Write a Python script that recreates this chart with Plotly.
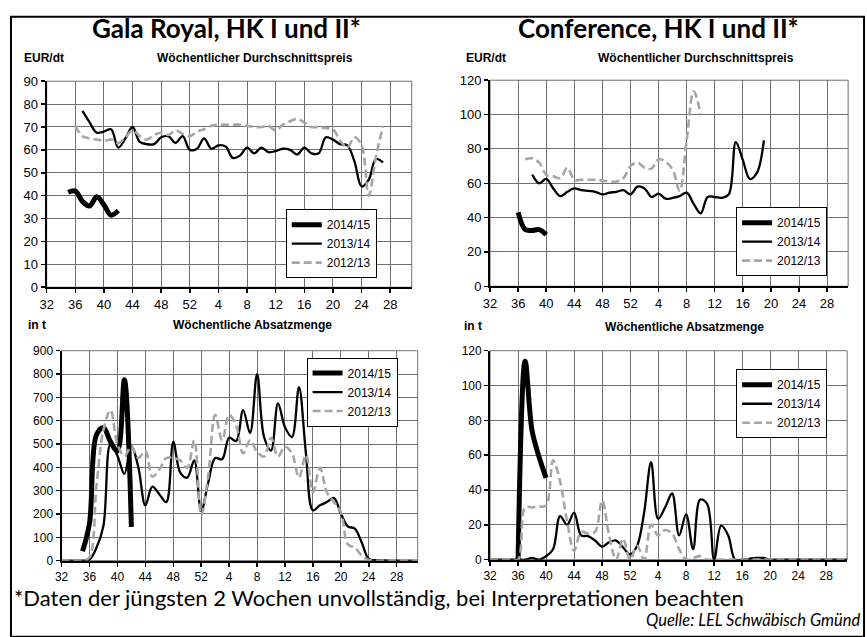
import plotly.graph_objects as go

W, H = 867, 637

# ---------------- data (week numbers of the marketing season, values) ----------------
tick_weeks = [32, 36, 40, 44, 48, 52, 4, 8, 12, 16, 20, 24, 28]
season_labels = ["2014/15", "2013/14", "2012/13"]

all_weeks = list(range(32, 53)) + list(range(1, 32))

# Gala Royal - weekly average price (EUR/dt)
gala_price_weeks_1415 = [35, 36, 37, 38, 39, 40, 41, 42]
gala_price_1415 = [41.5, 42, 37.5, 35.5, 39.5, 36, 31.5, 33.5]
gala_price_weeks_1314 = list(range(37, 53)) + list(range(1, 28))
gala_price_1314 = [77, 72, 67.5, 68, 69, 61, 65, 70, 63.5, 62.5, 62.5, 65.5, 66, 63, 66, 60,
                   60.5, 65, 60.5, 62, 61.5, 56.5, 57.5, 61, 58.5, 61, 59, 59.5, 60.5, 60,
                   58, 61, 58.5, 58.5, 65.5, 64.5, 62.5, 62, 55, 44, 47, 56, 54.5]
gala_price_weeks_1213 = list(range(36, 53)) + list(range(1, 28))
gala_price_1213 = [70.5, 66, 65, 64.5, 64, 64.5, 63, 65.5, 68.5, 66, 64.5, 66.5, 67.5, 66.5, 68.5, 67, 66,
                   68, 69, 70.5, 71, 71, 71, 71, 70.5, 70, 70, 70.5, 68.5, 71, 72.5, 73.5, 72,
                   70, 70, 69.5, 69, 64, 61, 65.5, 62, 40, 57, 70.5]

# Conference - weekly average price (EUR/dt)
conf_price_weeks_1415 = [36, 37, 38, 39, 40]
conf_price_1415 = [43, 33, 32.5, 33, 30]
conf_price_weeks_1314 = list(range(38, 53)) + list(range(1, 20))
conf_price_1314 = [65, 60, 62.5, 57, 52.5, 55, 57, 56, 55.5, 55, 53.5, 54.5, 55, 56, 53.5,
                   58, 57, 52, 54, 51, 51.5, 52.5, 54.5, 48, 42.5, 52, 52, 51.5, 53.5,
                   84, 73.5, 62.5, 66, 85]
conf_price_weeks_1213 = list(range(37, 53)) + list(range(1, 11))
conf_price_1213 = [74, 74.5, 72, 65, 64, 63, 69, 62, 62, 62, 62, 61.5, 61, 61, 63, 70,
                   72, 69, 68.5, 74, 72.5, 68, 55.5, 85, 113.5, 100]

# Gala Royal - weekly sales volume (t)
gala_vol_weeks_1415 = [35, 36, 37, 38, 39, 40, 41, 42]
gala_vol_1415 = [40, 160, 540, 570, 510, 470, 775, 145]
gala_vol_1314 = [0, 0, 0, 0, 5, 55, 150, 500, 450, 372, 490, 400, 237, 317, 285, 251, 509, 377, 356, 430, 212,
                 335, 440, 435, 527, 513, 645, 547, 800, 530, 472, 674, 572, 530, 744, 460, 216, 237, 251,
                 269, 202, 147, 137, 77, 7, 2, 1, 0, 0, 0, 0, 0]
gala_vol_1213 = [0, 0, 0, 0, 15, 320, 560, 645, 500, 448, 490, 440, 470, 360, 390, 440, 440, 430, 398, 516, 195,
                 363, 625, 516, 625, 580, 460, 516, 467, 446, 527, 446, 488, 460, 356, 453, 293, 398, 293,
                 251, 209, 70, 56, 21, 3, 0, 0, 0, 0, 0, 0, 0]

# Conference - weekly sales volume (t)
conf_vol_weeks_1415 = [36, 37, 38, 39, 40]
conf_vol_1415 = [0, 114, 74, 59, 47]
conf_vol_1314 = [0, 0, 0, 0, 0, 0, 1, 0, 2, 6, 25, 20, 27, 14, 13.5, 11, 7.5, 10, 11, 7, 3,
                 8, 27, 56, 23.5, 30, 38, 14, 26, 6, 34.5, 32, 0, 19.5, 14, 0, 0, 0.5, 1, 1,
                 0, 0, 0, 0, 0, 0, 0, 0, 0, 0, 0, 0]
conf_vol_1213 = [0, 0, 0, 0, 0, 30, 30, 30.5, 31, 57, 45, 22, 5, 16, 15, 16, 34, 14, 0, 12, 0,
                 8, 0, 20, 14, 17, 15, 6, 0, 1, 2, 0, 0, 0, 0, 0, 0, 0, 0, 0,
                 0, 0, 0, 0, 0, 0, 0, 0, 0, 0, 0, 0]


def pos(weeks):
    """season position of a calendar week (week 32 = 0)"""
    return [w - 32 if w >= 32 else w + 20 for w in weeks]


# ---------------- layout helpers (pixels -> paper) ----------------
def xd(a, b):
    return [a / W, b / W]


def yd(top, bottom):
    return [1 - bottom / H, 1 - top / H]


ARIAL = "Liberation Sans, Arial, sans-serif"
HUMAN = "Lato, Open Sans, sans-serif"
GRID = "#707070"
GRAY = "#a6a6a6"

styles = [
    dict(color="black", width=5),
    dict(color="black", width=2.3),
    dict(color=GRAY, width=2.6, dash="8px,4px"),
]

fig = go.Figure()

panels = [
    # (axis suffix, legend id, series list, y range, dtick)
    ("", "legend", [(gala_price_weeks_1415, gala_price_1415),
                    (gala_price_weeks_1314, gala_price_1314),
                    (gala_price_weeks_1213, gala_price_1213)], 90, 10),
    ("2", "legend2", [(conf_price_weeks_1415, conf_price_1415),
                      (conf_price_weeks_1314, conf_price_1314),
                      (conf_price_weeks_1213, conf_price_1213)], 120, 20),
    ("3", "legend3", [(gala_vol_weeks_1415, gala_vol_1415),
                      (all_weeks, gala_vol_1314),
                      (all_weeks, gala_vol_1213)], 900, 100),
    ("4", "legend4", [(conf_vol_weeks_1415, conf_vol_1415),
                      (all_weeks, conf_vol_1314),
                      (all_weeks, conf_vol_1213)], 120, 20),
]

for suffix, leg, series, ymax, dt in panels:
    for (wk, vals), name, st in zip(series, season_labels, styles):
        fig.add_trace(go.Scatter(
            x=pos(wk), y=vals, mode="lines", name=name,
            line=dict(shape="spline", smoothing=1.0, **st),
            xaxis="x" + suffix, yaxis="y" + suffix, legend=leg,
            hoverinfo="skip",
        ))

domains = {
    "": (xd(40, 408), yd(76, 287)),
    "2": (xd(487, 848), yd(75, 286)),
    "3": (xd(55, 414), yd(352, 567)),
    "4": (xd(487, 847), yd(352, 566)),
}

layout = dict(
    width=W, height=H,
    margin=dict(l=0, r=0, t=0, b=0),
    paper_bgcolor="white", plot_bgcolor="white",
    font=dict(family=ARIAL, color="black"),
)

for suffix, leg, series, ymax, dt in panels:
    xdom, ydom = domains[suffix]
    fs = 13 if suffix in ("", "2") else 12
    layout["xaxis" + suffix] = dict(
        domain=xdom, anchor="y" + suffix, range=[0, 51],
        tickmode="array", tickvals=pos(tick_weeks), ticktext=[str(t) for t in tick_weeks],
        showgrid=True, gridcolor=GRID, gridwidth=1,
        showline=True, linecolor="black", linewidth=2, mirror=False,
        ticks="outside", ticklen=4, tickcolor="black", tickwidth=1.5,
        tickfont=dict(family=ARIAL, size=fs), zeroline=False, fixedrange=True,
    )
    layout["yaxis" + suffix] = dict(
        domain=ydom, anchor="x" + suffix, range=[0, ymax], dtick=dt, tick0=0,
        showgrid=True, gridcolor=GRID, gridwidth=1,
        showline=True, linecolor="black", linewidth=2,
        ticks="outside", ticklen=4, tickcolor="black", tickwidth=1.5,
        tickfont=dict(family=ARIAL, size=fs), zeroline=False, fixedrange=True,
    )

legend_pos = {"legend": (281, 207), "legend2": (735, 205), "legend3": (302, 359), "legend4": (735, 371)}
for leg, (lx, ly) in legend_pos.items():
    layout[leg] = dict(
        x=lx / W, y=1 - ly / H, xanchor="left", yanchor="top",
        bgcolor="white", bordercolor="black", borderwidth=1,
        font=dict(family=ARIAL, size=12), tracegroupgap=0,
    )

# frames of the plot areas (right/top edges) and outer border, in paper coordinates
shapes = []
for suffix in ["", "2", "3", "4"]:
    xdom, ydom = domains[suffix]
    shapes.append(dict(type="rect", xref="paper", yref="paper",
                       x0=xdom[0], x1=xdom[1], y0=ydom[0], y1=ydom[1],
                       line=dict(color=GRID, width=1), layer="below"))
shapes.append(dict(type="rect", xref="paper", yref="paper",
                   x0=4 / W, x1=864 / W, y0=1 - 645 / H, y1=1 - 10 / H,
                   line=dict(color="black", width=2), layer="below"))
layout["shapes"] = shapes

fig.update_layout(**layout)


def ann(text, cx, cy, size, family=ARIAL, bold=False, xanchor="center", italic=False):
    t = text
    if bold:
        t = "<b>" + t + "</b>"
    if italic:
        t = "<i>" + t + "</i>"
    fig.add_annotation(text=t, x=cx / W, y=1 - cy / H, xref="paper", yref="paper",
                       xanchor=xanchor, yanchor="middle", showarrow=False, borderpad=0,
                       font=dict(family=family, size=size, color="black"))


ann("Gala Royal, HK I und II*", 221, 21, 26, HUMAN, bold=True)
ann("Conference, HK I und II*", 657, 21, 26, HUMAN, bold=True)
ann("EUR/dt", 37, 52, 12, bold=True)
ann("EUR/dt", 483, 52, 12, bold=True)
ann("Wöchentlicher Durchschnittspreis", 250, 52, 12, bold=True)
ann("Wöchentlicher Durchschnittspreis", 695, 52, 12, bold=True)
ann("in t", 30, 326, 12, bold=True)
ann("in t", 470, 327, 12, bold=True)
ann("Wöchentliche Absatzmenge", 248, 326, 12, bold=True)
ann("Wöchentliche Absatzmenge", 683, 328, 12, bold=True)
ann("*Daten der jüngsten 2 Wochen unvollständig, bei Interpretationen beachten", 6, 605, 22, HUMAN,
    xanchor="left")
ann("Quelle: LEL Schwäbisch Gmünd", 862, 628, 16.5, HUMAN, xanchor="right", italic=True)

fig.write_html(
    "out.html",
    config={"displayModeBar": False, "staticPlot": True},
    post_script="document.body.style.margin='0';document.body.style.overflow='hidden';",
)
